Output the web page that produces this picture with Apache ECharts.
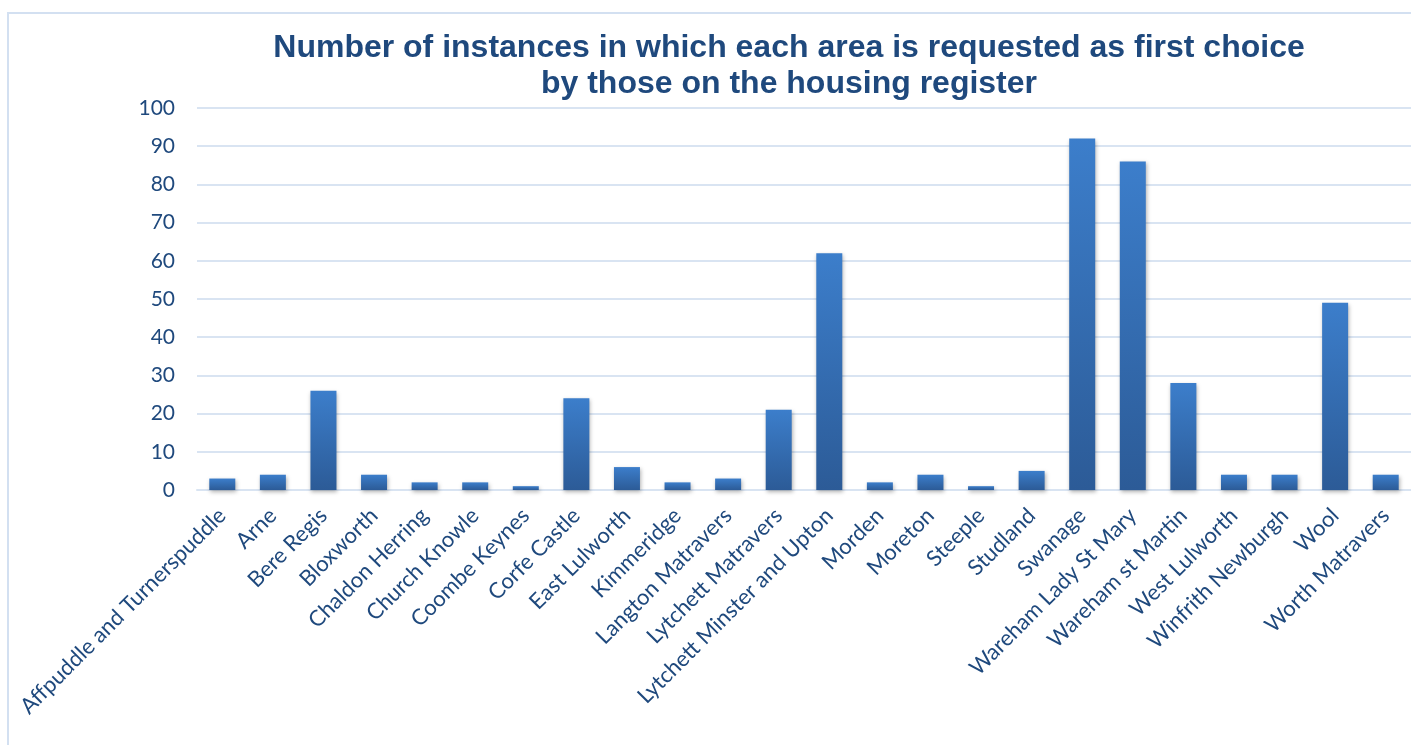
<!DOCTYPE html>
<html>
<head>
<meta charset="utf-8">
<script src="https://cdn.jsdelivr.net/npm/echarts@6/dist/echarts.min.js"></script>
<style>
  html, body { margin: 0; padding: 0; background: #ffffff; }
  #chart { width: 1411px; height: 745px; }
</style>
</head>
<body>
<div id="chart"></div>
<script>
// Areas requested as first choice
const areas = [
  'Affpuddle and Turnerspuddle', 'Arne', 'Bere Regis', 'Bloxworth',
  'Chaldon Herring', 'Church Knowle', 'Coombe Keynes', 'Corfe Castle',
  'East Lulworth', 'Kimmeridge', 'Langton Matravers', 'Lytchett Matravers',
  'Lytchett Minster and Upton', 'Morden', 'Moreton', 'Steeple', 'Studland',
  'Swanage', 'Wareham Lady St Mary', 'Wareham st Martin', 'West Lulworth',
  'Winfrith Newburgh', 'Wool', 'Worth Matravers'
];

// Number of first-choice requests per area
const requests = [3, 4, 26, 4, 2, 2, 1, 24, 6, 2, 3, 21, 62, 2, 4, 1, 5, 92, 86, 28, 4, 4, 49, 4];

const titleLines = [
  'Number of instances in which each area is requested as first choice',
  'by those on the housing register'
];

const yMin = 0, yMax = 100, yStep = 10;

const chart = echarts.init(document.getElementById('chart'), null, { renderer: 'canvas' });

const textBlue = '#1F497D';
const gridBlue = '#D9E4F2';

chart.setOption({
  backgroundColor: '#ffffff',
  animation: false,
  title: {
    text: titleLines.join('\n'),
    left: 784,
    top: 25,
    textAlign: 'center',
    textStyle: {
      fontFamily: '"Liberation Sans", Arial, sans-serif',
      fontWeight: 'bold',
      fontSize: 32,
      lineHeight: 36,
      color: textBlue
    }
  },
  graphic: [{
    type: 'rect',
    shape: { x: 8, y: 13, width: 1420, height: 760 },
    style: { fill: 'none', stroke: '#D3E0F1', lineWidth: 2 },
    silent: true,
    z: -1
  }],
  grid: {
    left: 197,
    top: 108,
    bottom: 255,
    width: 1217,
    containLabel: false
  },
  xAxis: {
    type: 'category',
    data: areas,
    axisLine: { show: true, lineStyle: { color: gridBlue, width: 2 } },
    axisTick: { show: false },
    axisLabel: {
      interval: 0,
      rotate: 45,
      margin: 22,
      fontFamily: 'Lato, "Open Sans", sans-serif',
      fontSize: 22,
      color: textBlue
    }
  },
  yAxis: {
    type: 'value',
    min: yMin,
    max: yMax,
    interval: yStep,
    axisLine: { show: false },
    axisTick: { show: false },
    splitLine: { lineStyle: { color: gridBlue, width: 2 } },
    axisLabel: {
      margin: 22,
      fontFamily: 'Lato, "Open Sans", sans-serif',
      fontSize: 21,
      color: textBlue
    }
  },
  series: [{
    type: 'bar',
    data: requests,
    barWidth: 26,
    itemStyle: {
      color: new echarts.graphic.LinearGradient(0, 0, 0, 1, [
        { offset: 0, color: '#3C7ECB' },
        { offset: 1, color: '#2C5B97' }
      ]),
      shadowColor: 'rgba(0,0,0,0.3)',
      shadowBlur: 4,
      shadowOffsetX: 1,
      shadowOffsetY: 2
    }
  }]
});
</script>
</body>
</html>
